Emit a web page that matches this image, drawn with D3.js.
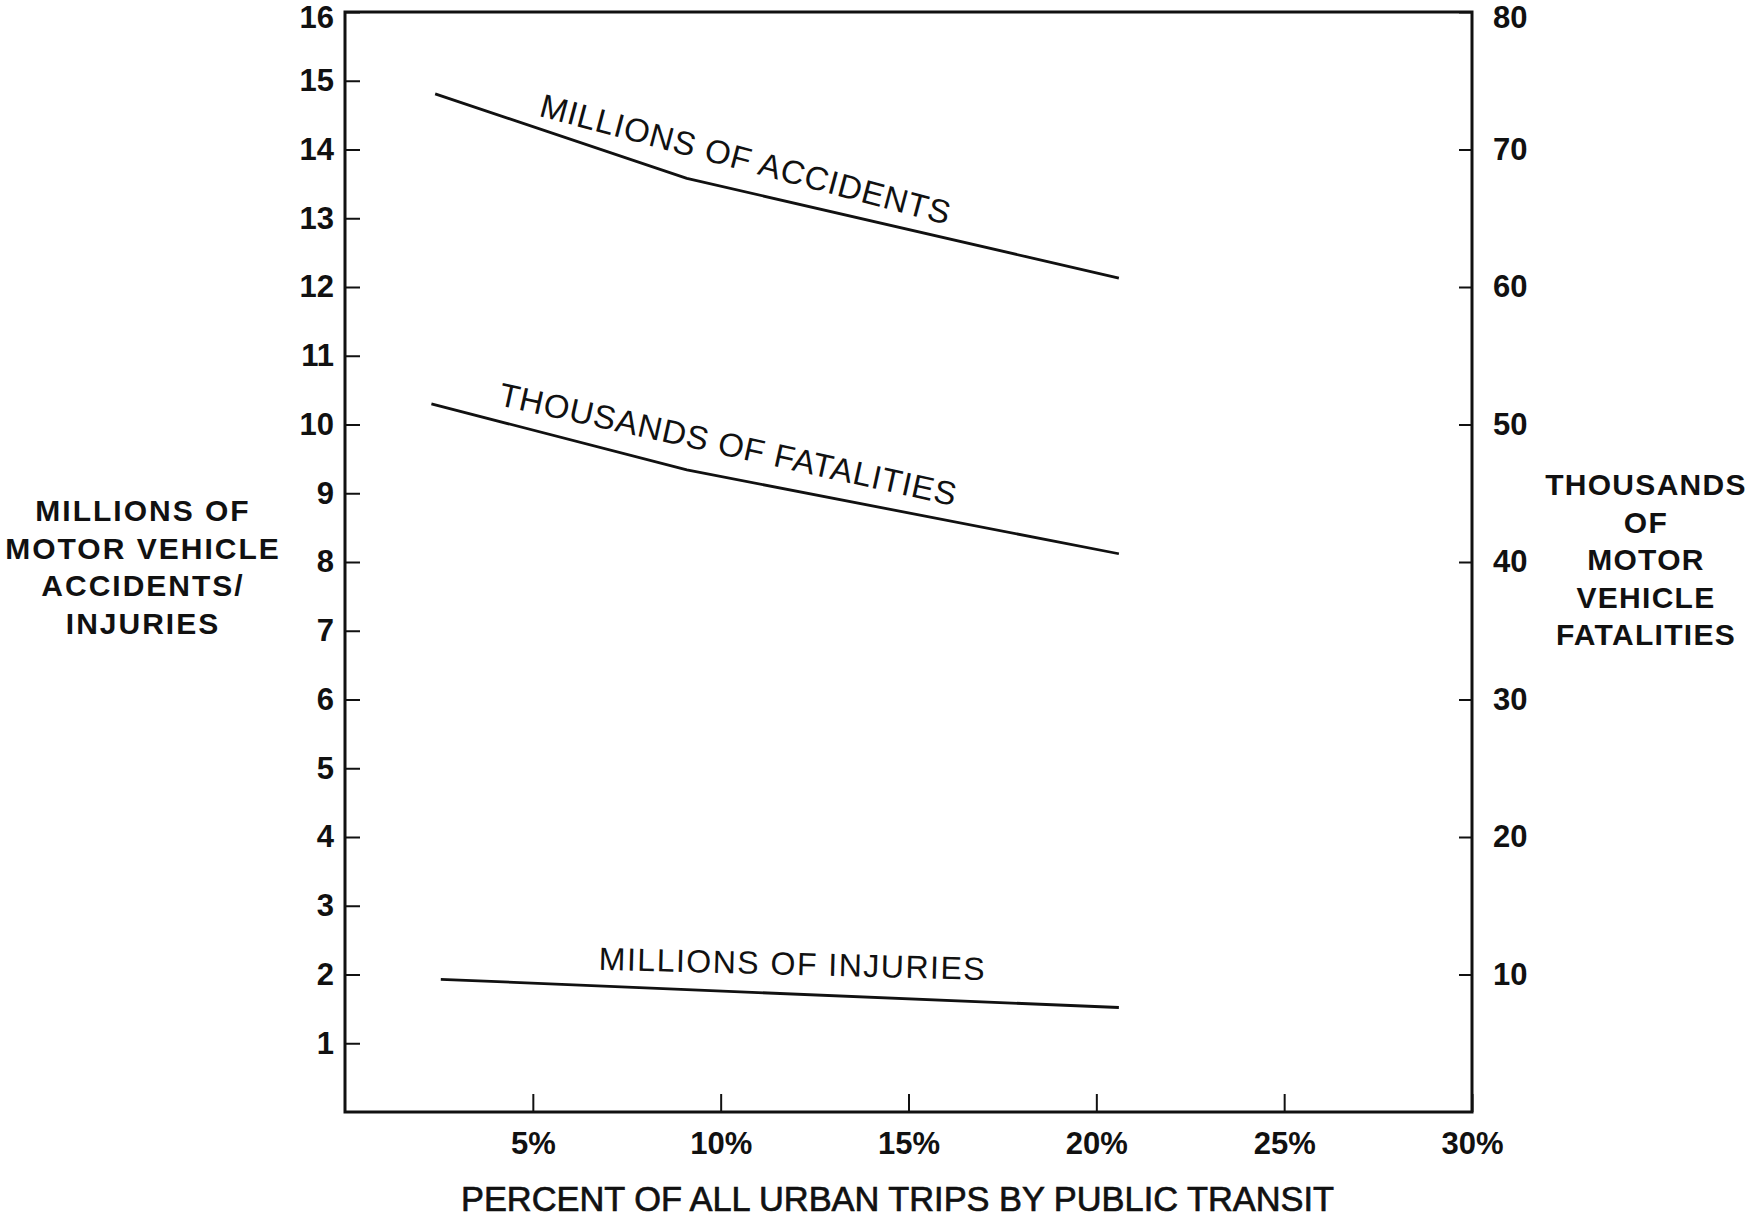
<!DOCTYPE html>
<html>
<head>
<meta charset="utf-8">
<script src="https://cdn.jsdelivr.net/npm/d3@7"></script>
<style>
  body { margin: 0; background: #fff; }
  text { font-family: "Liberation Sans", Arial, Helvetica, sans-serif; fill: #111; }
</style>
</head>
<body>
<svg id="chart" width="1748" height="1217"></svg>
<script>
// Share of urban trips made by public transit (%)
const accidentsX   = [2.4, 9.1, 20.6];
const accidentsM   = [14.81, 13.58, 12.13];   // millions of accidents (left axis)
const fatalitiesX  = [2.3, 9.1, 20.6];
const fatalitiesK  = [51.5, 46.7, 40.6];      // thousands of fatalities (right axis)
const injuriesX    = [2.55, 9.1, 20.6];
const injuriesM    = [1.93, 1.78, 1.52];      // millions of injuries (left axis)

const leftTicks  = [1, 2, 3, 4, 5, 6, 7, 8, 9, 10, 11, 12, 13, 14, 15, 16];
const rightTicks = [10, 20, 30, 40, 50, 60, 70, 80];
const xTicks     = [5, 10, 15, 20, 25, 30];

const leftTitle  = ["MILLIONS OF", "MOTOR VEHICLE", "ACCIDENTS/", "INJURIES"];
const rightTitle = ["THOUSANDS", "OF", "MOTOR", "VEHICLE", "FATALITIES"];
const xTitle     = "PERCENT OF ALL URBAN TRIPS BY PUBLIC TRANSIT";

const svg = d3.select("#chart");
svg.append("rect").attr("width", 1748).attr("height", 1217).attr("fill", "#fff");

const x  = d3.scaleLinear().domain([0, 30]).range([345, 1472]);
const yL = d3.scaleLinear().domain([0, 16]).range([1112, 12]);
const yR = d3.scaleLinear().domain([0, 80]).range([1112, 12]);

// Axes with inward ticks
const gL = svg.append("g").attr("transform", `translate(${x(0)},0)`)
  .call(d3.axisLeft(yL).tickValues(leftTicks).tickSize(-15).tickPadding(11));
const gR = svg.append("g").attr("transform", `translate(${x(30)},0)`)
  .call(d3.axisRight(yR).tickValues(rightTicks).tickSize(-13).tickPadding(21));
const gB = svg.append("g").attr("transform", `translate(0,${yL(0)})`)
  .call(d3.axisBottom(x).tickValues(xTicks).tickSize(-18).tickPadding(20).tickFormat(d => d + "%"));

[gL, gR, gB].forEach(g => {
  g.select(".domain").remove();
  g.selectAll(".tick line").attr("stroke", "#111").attr("stroke-width", 2);
  g.selectAll(".tick text")
    .attr("fill", "#111")
    .style("font-size", "31px")
    .style("font-weight", "bold");
});
// the topmost labels sit just below the frame's top edge
gL.selectAll(".tick text").filter(d => d === 16).attr("dy", "0.5em");
gR.selectAll(".tick text").filter(d => d === 80).attr("dy", "0.5em");

// Plot frame
svg.append("rect")
  .attr("x", x(0)).attr("y", yL(16))
  .attr("width", x(30) - x(0)).attr("height", yL(0) - yL(16))
  .attr("fill", "none").attr("stroke", "#111").attr("stroke-width", 3);

// Series lines
const series = [
  { xs: accidentsX,  ys: accidentsM,  y: yL },
  { xs: fatalitiesX, ys: fatalitiesK, y: yR },
  { xs: injuriesX,   ys: injuriesM,   y: yL }
];
series.forEach(s => {
  const pts = s.xs.map((v, i) => [v, s.ys[i]]);
  svg.append("path")
    .datum(pts)
    .attr("fill", "none")
    .attr("stroke", "#111")
    .attr("stroke-width", 2.8)
    .attr("stroke-linejoin", "round")
    .attr("d", d3.line().x(d => x(d[0])).y(d => s.y(d[1])));
});

// Labels set along each line: baseline runs between two points in data units
function lineLabel(text, p0, p1, yScale, size, spacing) {
  const ax = x(p0[0]), ay = yScale(p0[1]);
  const bx = x(p1[0]), by = yScale(p1[1]);
  const ang = Math.atan2(by - ay, bx - ax) * 180 / Math.PI;
  svg.append("text")
    .attr("x", ax).attr("y", ay)
    .attr("transform", `rotate(${ang},${ax},${ay})`)
    .style("font-size", size + "px")
    .style("letter-spacing", spacing + "px")
    .text(text);
}
lineLabel("MILLIONS OF ACCIDENTS",   [5.14, 14.49], [15.92, 12.92], yL, 33, 0.8);
lineLabel("THOUSANDS OF FATALITIES", [4.05, 51.42], [16.32, 44.0],  yR, 33, 0.8);
lineLabel("MILLIONS OF INJURIES",    [6.75, 2.07],  [17.06, 1.92],  yL, 32, 1.5);

// Axis titles
const lt = svg.append("text")
  .attr("text-anchor", "middle")
  .style("font-size", "30px").style("font-weight", "bold").style("letter-spacing", "2px");
leftTitle.forEach((t, i) => lt.append("tspan").attr("x", 143).attr("y", 521 + i * 37.5).text(t));

const rt = svg.append("text")
  .attr("text-anchor", "middle")
  .style("font-size", "30px").style("font-weight", "bold").style("letter-spacing", "1.3px");
rightTitle.forEach((t, i) => rt.append("tspan").attr("x", 1646).attr("y", 495 + i * 37.5).text(t));

svg.append("text")
  .attr("x", (x(0) + x(30)) / 2 - 11).attr("y", 1211)
  .attr("text-anchor", "middle")
  .attr("textLength", 873).attr("lengthAdjust", "spacingAndGlyphs")
  .style("font-size", "35px")
  .attr("stroke", "#111").attr("stroke-width", 0.7)
  .text(xTitle);
</script>
</body>
</html>
